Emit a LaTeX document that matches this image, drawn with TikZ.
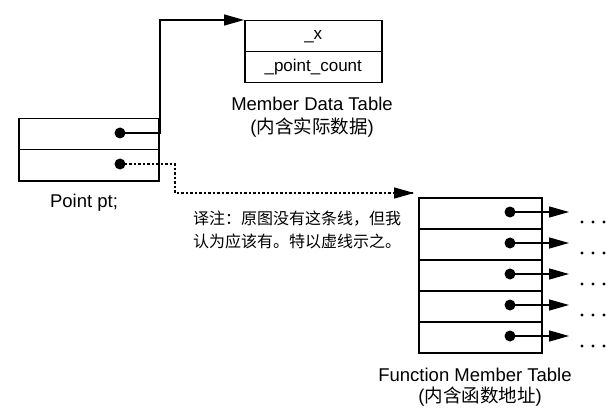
\documentclass[tikz,border=0pt]{standalone}
\usepackage{fontspec}
\setmainfont{Liberation Sans}
\newfontfamily\cjk{Noto Sans CJK SC}
\usetikzlibrary{arrows.meta}
\begin{document}
\begin{tikzpicture}[x=1pt,y=-1pt,
  cell/.style={draw,line width=1.5pt,minimum width=#1,minimum height=31pt,inner sep=0,anchor=north west},
  dot/.style={circle,fill,inner sep=0,minimum size=11pt},
  arr/.style={line width=1.3pt,-{Triangle[length=20pt,width=11pt]}},
  lbl/.style={font=\fontsize{18.5}{20}\selectfont,inner sep=0}]
\useasboundingbox (0,0) rectangle (613,409);
% member data table
\node[cell=137pt] (m1) at (244,20) {\fontsize{17}{18}\selectfont \_x};
\node[cell=137pt] (m2) at (244,51) {\fontsize{17}{18}\selectfont \_point\_count};
\node[lbl] (mt) at (312,104) {Member Data Table};
\node[lbl] (mt2) at (312,128) {({\cjk 内含实际数据})};
% point pt
\node[cell=140pt] (p1) at (18,118) {};
\node[cell=140pt] (p2) at (18,149) {};
\node[dot] (d1) at (120,133) {};
\node[dot] (d2) at (120,164) {};
\node[lbl] (pl) at (84,203) {Point pt;};
\coordinate (c1) at (160,133);
\coordinate (c2) at (160,20);
\draw[arr] (d1.center) -- (c1) -- (c2) -- (m1.north west);
% dotted
\coordinate (c3) at (175,164);
\coordinate (c4) at (175,193);
\coordinate (c5) at (414,193);
\draw[line width=2.5pt,dotted] (d2.center) -- (c3) -- (c4) -- (c5);
\draw[arr] (c5) ++(-4,0) -- (c5);
\node[inner sep=0,anchor=west,font=\cjk\fontsize{16}{23}\selectfont,align=left] (note) at (193,230) {译注：原图没有这条线，但我\\认为应该有。特以虚线示之。};
% function table
\foreach \i in {0,...,4}{
  \node[cell=123pt] (f\i) at (418,197+31*\i) {};
  \node[dot] (fd\i) at (510,212+31*\i) {};
  \coordinate (fe\i) at (569,212+31*\i);
  \draw[arr] (fd\i.center) -- (fe\i);
  \foreach \k in {0,1,2} \fill (582+11*\k,222+31*\i) circle (1.6pt);
}
\node[lbl] (ft) at (475,375) {Function Member Table};
\node[lbl] (ft2) at (480,397) {({\cjk 内含函数地址})};
\end{tikzpicture}
\end{document}
